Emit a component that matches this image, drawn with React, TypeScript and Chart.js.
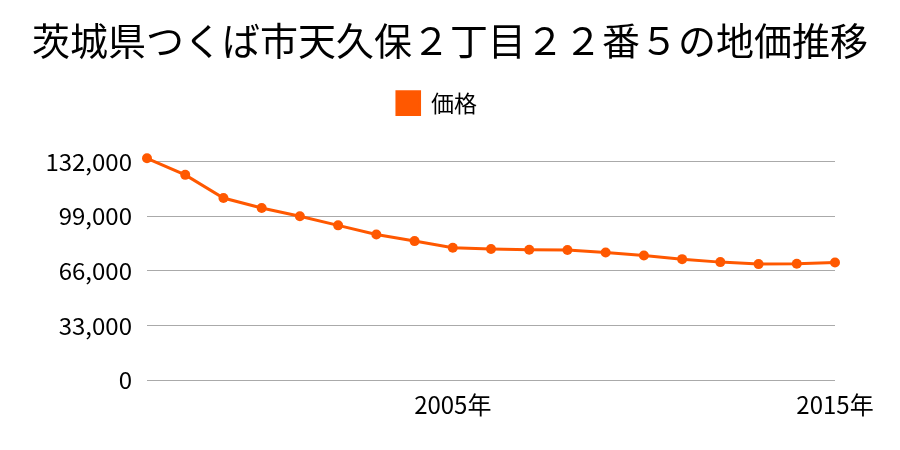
import React, { useEffect, useRef } from "react";
import { Chart, registerables } from "chart.js";

Chart.register(...registerables);

const years = [1997, 1998, 1999, 2000, 2001, 2002, 2003, 2004, 2005, 2006, 2007, 2008, 2009, 2010, 2011, 2012, 2013, 2014, 2015];
const prices = [134000, 124000, 110000, 104000, 99000, 93500, 88000, 84000, 80000, 79200, 78800, 78600, 77100, 75300, 73100, 71300, 70100, 70300, 71100];
const shownYears = [2005, 2015];
const yTicks = [0, 33000, 66000, 99000, 132000];
const titleText = "茨城県つくば市天久保２丁目２２番５の地価推移";
const seriesName = "価格";

const FONT = "'Noto Sans CJK JP', 'Noto Sans', sans-serif";
const ORANGE = "rgb(255, 88, 0)";

const legendTweak = {
  id: "legendTweak",
  beforeLayout(chart: any) {
    const leg = chart.legend;
    if (leg && !leg.__patched) {
      const orig = leg.fit;
      leg.fit = function () {
        orig.call(this);
        this.height += 37;
      };
      leg.__patched = true;
    }
  },
  afterLayout(chart: any) {
    const leg = chart.legend;
    if (leg) {
      leg.left -= 13;
      leg.right -= 13;
    }
  },
};

export default function App() {
  const ref = useRef<HTMLCanvasElement>(null);
  useEffect(() => {
    document.body.style.margin = "0";
    const ctx = ref.current!;
    const chart = new Chart(ctx, {
      type: "line",
      data: {
        labels: years.map((y) => `${y}年`),
        datasets: [
          {
            label: seriesName,
            data: prices,
            borderColor: ORANGE,
            backgroundColor: ORANGE,
            borderWidth: 3,
            pointRadius: 5,
            pointBackgroundColor: ORANGE,
            pointBorderColor: ORANGE,
            pointBorderWidth: 0,
            tension: 0,
            clip: false as any,
          },
        ],
      },
      plugins: [legendTweak],
      options: {
        animation: false,
        responsive: false,
        devicePixelRatio: 1,
        layout: { padding: { left: 0, right: 0, top: 0, bottom: 21 } },
        plugins: {
          title: {
            display: true,
            text: titleText,
            color: "#000",
            font: { family: FONT, size: 38, weight: "normal" },
            padding: { top: 18, bottom: 18 },
          },
          legend: {
            display: true,
            labels: {
              color: "#000",
              font: { family: FONT, size: 23 },
              boxWidth: 22.6,
              boxHeight: 22.6,
              padding: 10,
            },
          },
          tooltip: { enabled: false },
        },
        scales: {
          x: {
            offset: false,
            grid: { display: false, drawTicks: false },
            border: { display: false },
            ticks: {
              autoSkip: false,
              maxRotation: 0,
              padding: 10,
              color: "#000",
              font: { family: FONT, size: 24 },
              callback: (_v: any, i: number) => (shownYears.includes(years[i]) ? `${years[i]}年` : ""),
            },
          },
          y: {
            min: 0,
            max: 132000,
            afterFit: (s: any) => {
              s.width = 147;
            },
            afterBuildTicks: (s: any) => {
              s.ticks = yTicks.map((v) => ({ value: v }));
            },
            grid: { color: "#aaaaaa", lineWidth: 1, drawTicks: false },
            border: { display: false },
            ticks: {
              padding: 15,
              color: "#000",
              font: { family: FONT, size: 24 },
              callback: (v: any) => Number(v).toLocaleString("en-US"),
            },
          },
          yRight: {
            type: "linear",
            position: "right",
            display: true,
            afterFit: (s: any) => {
              s.width = 65;
            },
            grid: { display: false, drawTicks: false },
            border: { display: false },
            ticks: { display: false },
          },
        },
      } as any,
    });
    return () => chart.destroy();
  }, []);
  return (
    <div style={{ position: "fixed", left: 0, top: 0, width: 900, height: 450 }}>
      <canvas ref={ref} width={900} height={450} style={{ width: 900, height: 450 }} />
    </div>
  );
}
